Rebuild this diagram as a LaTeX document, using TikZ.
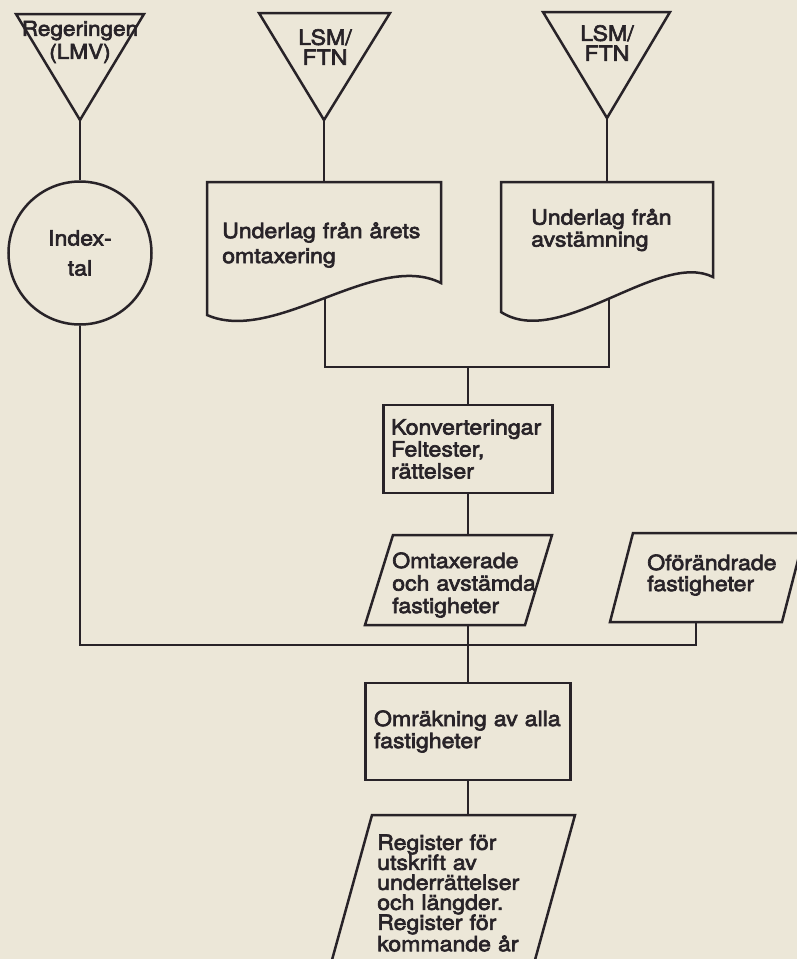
\documentclass[tikz,border=0pt]{standalone}
\usepackage{fontspec}
\setmainfont{TeX Gyre Heros}[FakeStretch=1.1, FakeBold=3]
\usepackage{tikz}
\definecolor{paper}{RGB}{236,231,216}
\definecolor{ink}{RGB}{40,35,40}

\begin{document}
\begin{tikzpicture}[x=1pt, y=-1pt, color=ink, line width=2.5pt,
  every node/.style={font=\fontsize{21}{22}\selectfont, inner sep=0pt},
  box/.style={draw, rectangle, align=left},
  lbl/.style={align=left, anchor=west},
  src/.style={align=center, font=\fontsize{21}{20}\selectfont}]
  \fill[paper] (0,0) rectangle (797,959);
  \useasboundingbox (0,0) rectangle (797,959);
  \clip (0,0) rectangle (797,959);

  \draw (16,14) -- (144,14) -- (80,120) coordinate (t1) -- cycle;
  \draw (259,13) -- (390,13) -- (324,120) coordinate (t2) -- cycle;
  \draw (543,12) -- (670,12) -- (607,118) coordinate (t3) -- cycle;
  \node[src, font=\fontsize{20.5}{23}\selectfont] (t1l) at (80,42) {Regeringen\\(LMV)};
  \node[src] (t2l) at (325,47) {LSM/\\FTN};
  \node[src] (t3l) at (607,43) {LSM/\\FTN};

  \node[draw, circle, minimum size=143pt, align=center,
    font=\fontsize{21}{30}\selectfont] (idx) at (80,253) {Index-\\tal};

  \draw (207,182) -- (441,182) coordinate[pos=0.5] (d1t) -- (441,283)
    .. controls (376,250) and (275,345) .. (207,315) coordinate[pos=0.5] (d1b) -- cycle;
  \draw (501,182) -- (713,182) coordinate[pos=0.5] (d2t) -- (713,277)
    .. controls (659,250) and (560,350) .. (501,312) coordinate[pos=0.5] (d2b) -- cycle;
  \node[lbl, text width=215pt, font=\fontsize{21}{25}\selectfont] (d1) at (221,245) {Underlag från årets\\omtaxering};
  \node[lbl, text width=180pt] (d2) at (530,230) {Underlag från\\avstämning};

  \node[box, minimum width=169pt, minimum height=88pt, text width=154pt] (konv) at (468,449)
    {Konverteringar\\Feltester,\\rättelser};

  \draw (393,535) coordinate (o1) -- (552,535) -- (525,625) -- (365,625) coordinate (o2) -- cycle;
  \node[lbl, text width=160pt, font=\fontsize{21}{22.5}\selectfont] (omtax) at (391,585)
    {Omtaxerade\\och avstämda\\fastigheter};
  \draw (633,533) -- (805,533) -- (782,622) -- coordinate (f1) (610,622) -- cycle;
  \node[lbl, text width=140pt, font=\fontsize{21}{21}\selectfont] (ofor) at (646,575)
    {Oförändrade\\fastigheter};

  \node[box, minimum width=205pt, minimum height=97pt, text width=188pt] (omr) at (468,731.5)
    {Omräkning av alla\\fastigheter};

  \draw (372,815) coordinate (r1) -- (575,815) -- (530,978) -- (327,978) -- cycle;
  \node[lbl, text width=180pt, font=\fontsize{21}{20}\selectfont] (reg) at (376,893)
    {Register för\\utskrift av\\underrättelser\\och längder.\\Register för\\kommande år};

  \coordinate (join) at (468,367);
  \coordinate (merge) at (468,645);
  \draw (t1) -- (idx);
  \draw (t2) -- (d1t);
  \draw (t3) -- (d2t);
  \draw (d1b) -- (d1b |- join) -- (d2b |- join) -- (d2b);
  \draw (join) -- (konv);
  \draw (konv) -- (join |- o1);
  \draw (join |- o2) -- (omr);
  \draw (idx) |- (merge) -| (f1);
  \draw (omr) -- (join |- r1);
\end{tikzpicture}
\end{document}
